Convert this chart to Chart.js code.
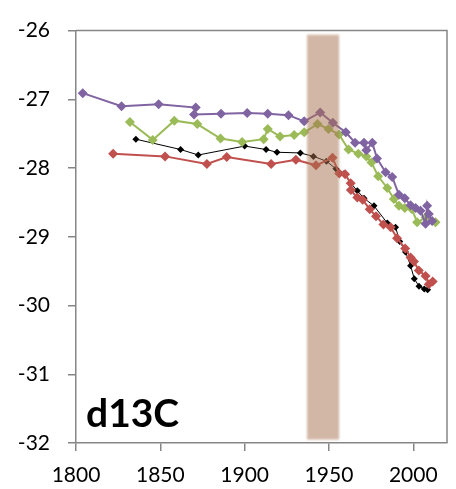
<!DOCTYPE html>
<html lang="en">
<head>
  <meta charset="UTF-8" />
  <title>d13C</title>
  <script src="https://cdn.jsdelivr.net/npm/chart.js"></script>
  <style>
    html, body { margin: 0; padding: 0; background: #fff; }
    .chart-container { position: relative; width: 456px; height: 489px; }
  </style>
</head>
<body>
  <div class="chart-container">
    <canvas id="d13cChart" width="456" height="489"></canvas>
  </div>

  <script>
    // axis ticks
    const xTicks = [1800, 1850, 1900, 1950, 2000];
    const yTicks = [-26, -27, -28, -29, -30, -31, -32];

    // shaded period
    const bandYears = [1937, 1956];

    // purple series
    const purpleYears = [1804, 1827, 1849, 1871, 1870, 1886, 1901.5, 1913.7, 1926, 1935.3, 1944.8, 1952.3, 1960, 1965.5, 1970.8, 1972.2, 1975.7, 1978.5, 1983.6, 1987.5, 1991.5, 1995, 1998.4, 2001.4, 2004.3, 2007.3, 2008.2, 2009.2, 2011.2];
    const purpleVals  = [-26.91, -27.10, -27.07, -27.12, -27.22, -27.21, -27.20, -27.21, -27.23, -27.32, -27.19, -27.34, -27.48, -27.63, -27.63, -27.74, -27.63, -27.86, -28.06, -28.13, -28.39, -28.44, -28.54, -28.58, -28.62, -28.81, -28.55, -28.67, -28.77];

    // green series
    const greenYears = [1832, 1845.5, 1858.3, 1871.9, 1885.7, 1898.5, 1911.3, 1913.7, 1921, 1929.4, 1935.3, 1943.2, 1949.7, 1956, 1961.6, 1967.4, 1972.2, 1975.2, 1979.2, 1984.6, 1988.5, 1991.5, 1995, 1999.3, 2002.3, 2007.3, 2013.2];
    const greenVals  = [-27.33, -27.59, -27.31, -27.36, -27.57, -27.62, -27.58, -27.43, -27.54, -27.52, -27.48, -27.36, -27.43, -27.51, -27.73, -27.79, -27.83, -27.92, -28.12, -28.29, -28.45, -28.55, -28.58, -28.60, -28.79, -28.72, -28.79];

    // black series
    const blackYears = [1835.5, 1862, 1872.5, 1900, 1912.7, 1919.2, 1933, 1940.8, 1948.5, 1954.1, 1959, 1962.9, 1966.8, 1970.8, 1976.7, 1984.6, 1989.5, 1992, 1995.4, 1998.4, 2000.6, 2003.4, 2006.5, 2008.5];
    const blackVals  = [-27.58, -27.73, -27.81, -27.68, -27.73, -27.77, -27.78, -27.83, -27.90, -28.01, -28.08, -28.22, -28.33, -28.44, -28.55, -28.80, -28.86, -29.07, -29.22, -29.42, -29.61, -29.72, -29.76, -29.77];

    // red series
    const redYears = [1822, 1852.8, 1877.6, 1889.4, 1915.7, 1930.4, 1942.3, 1952.1, 1956.1, 1959.6, 1962.9, 1963, 1966.8, 1970, 1974.2, 1977.9, 1982.3, 1986.6, 1990.4, 1995.2, 1998.4, 2000.4, 2003.3, 2007.3, 2009.2, 2011.5];
    const redVals  = [-27.79, -27.83, -27.94, -27.84, -27.94, -27.88, -27.96, -27.85, -28.08, -28.09, -28.22, -28.32, -28.43, -28.46, -28.60, -28.70, -28.82, -28.86, -29.02, -29.17, -29.30, -29.36, -29.49, -29.57, -29.69, -29.65];

    const pairs = (xs, ys) => xs.map((x, i) => ({ x: x, y: ys[i] }));

    const AXIS_GREY = '#868686';
    const FONT = 'Lato, "Open Sans", sans-serif';

    // translucent band laid over the series, plus the frame and the label
    const overlay = {
      id: 'overlay',
      afterDatasetsDraw(chart) {
        const { ctx, chartArea, scales } = chart;
        const x0 = scales.x.getPixelForValue(bandYears[0]);
        const x1 = scales.x.getPixelForValue(bandYears[1]);
        const yTop = scales.y.getPixelForValue(-26.06);
        const yBot = scales.y.getPixelForValue(-31.95);
        ctx.save();
        ctx.filter = 'blur(1px)';
        ctx.fillStyle = 'rgba(168, 112, 78, 0.5)';
        ctx.fillRect(x0, yTop, x1 - x0, yBot - yTop);
        ctx.restore();

        ctx.save();
        ctx.strokeStyle = AXIS_GREY;
        ctx.lineWidth = 1.5;
        ctx.beginPath();
        ctx.moveTo(chartArea.left, chartArea.top);
        ctx.lineTo(chartArea.right, chartArea.top);
        ctx.lineTo(chartArea.right, chartArea.bottom);
        ctx.stroke();

        ctx.fillStyle = '#000';
        ctx.font = 'bold 39px ' + FONT;
        ctx.textBaseline = 'alphabetic';
        ctx.fillText('d13C', chartArea.left + 10, chartArea.bottom - 16);
        ctx.restore();
      }
    };

    const axisStyle = {
      grid: { display: true, drawOnChartArea: false, drawTicks: true, tickLength: 8, color: AXIS_GREY, lineWidth: 1.5 },
      border: { display: true, color: AXIS_GREY, width: 1.5 }
    };

    new Chart(document.getElementById('d13cChart'), {
      type: 'scatter',
      data: {
        datasets: [
          {
            label: 'purple',
            data: pairs(purpleYears, purpleVals),
            borderColor: '#8064a2',
            backgroundColor: '#8064a2',
            borderWidth: 2,
            showLine: true,
            pointStyle: 'rectRot',
            pointRadius: 5,
            pointBorderWidth: 0,
            order: 1
          },
          {
            label: 'green',
            data: pairs(greenYears, greenVals),
            borderColor: '#9bbb59',
            backgroundColor: '#9bbb59',
            borderWidth: 2,
            showLine: true,
            pointStyle: 'rectRot',
            pointRadius: 5,
            pointBorderWidth: 0,
            order: 2
          },
          {
            label: 'red',
            data: pairs(redYears, redVals),
            borderColor: '#c0504d',
            backgroundColor: '#c0504d',
            borderWidth: 2,
            showLine: true,
            pointStyle: 'rectRot',
            pointRadius: 5,
            pointBorderWidth: 0,
            order: 3
          },
          {
            label: 'black',
            data: pairs(blackYears, blackVals),
            borderColor: '#000',
            backgroundColor: '#000',
            borderWidth: 1,
            showLine: true,
            pointStyle: 'rectRot',
            pointRadius: 3.5,
            pointBorderWidth: 0,
            order: 4
          }
        ]
      },
      options: {
        responsive: false,
        animation: false,
        layout: { padding: { top: 20, right: 9, left: 0, bottom: 0 } },
        plugins: {
          legend: { display: false },
          tooltip: { enabled: false }
        },
        scales: {
          x: {
            type: 'linear',
            min: 1800,
            max: 2020,
            afterBuildTicks: (s) => { s.ticks = xTicks.map(v => ({ value: v })); },
            afterFit: (s) => { s.height = 46; },
            ...axisStyle,
            ticks: {
              color: '#000', padding: 12, maxRotation: 0, autoSkip: false,
              font: { family: FONT, size: 21 },
              callback: (v) => String(v)
            }
          },
          y: {
            type: 'linear',
            min: -32,
            max: -26,
            afterBuildTicks: (s) => { s.ticks = yTicks.map(v => ({ value: v })); },
            afterFit: (s) => { s.width = 76; },
            ...axisStyle,
            ticks: {
              color: '#000', padding: 18, autoSkip: false,
              font: { family: FONT, size: 21 },
              callback: (v) => String(v)
            }
          }
        }
      },
      plugins: [overlay]
    });
  </script>
</body>
</html>
